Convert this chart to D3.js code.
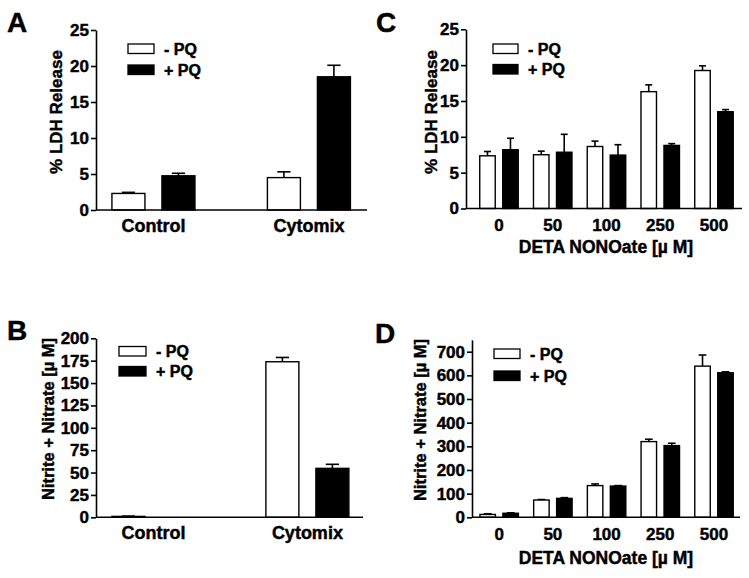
<!DOCTYPE html>
<html>
<head>
<meta charset="utf-8">
<script src="https://cdn.jsdelivr.net/npm/d3@7"></script>
<style>
  html, body { margin: 0; padding: 0; background: #fff; }
  svg { display: block; }
  text { font-family: "Liberation Sans", Arial, Helvetica, sans-serif; font-weight: bold; fill: #000; stroke: #000; stroke-width: 0.45px; }
</style>
</head>
<body>
<svg id="chart" width="749" height="578"></svg>
<script>
// ---------- DATA ----------
const seriesNames = ["- PQ", "+ PQ"];
const treatCats = ["Control", "Cytomix"];
const doseCats = ["0", "50", "100", "250", "500"];

// Panel A: % LDH Release
const aMinus = [2.3, 4.5];
const aMinusErr = [0.15, 0.8];
const aPlus = [4.75, 18.5];
const aPlusErr = [0.35, 1.6];
const aTicks = [0, 5, 10, 15, 20, 25];

// Panel B: Nitrite + Nitrate [µM]
const bMinus = [1.0, 173.8];
const bMinusErr = [0.3, 4.8];
const bPlus = [0, 54.7];
const bPlusErr = [0, 4.5];
const bTicks = [0, 25, 50, 75, 100, 125, 150, 175, 200];

// Panel C: % LDH Release vs DETA NONOate
const cMinus = [7.35, 7.5, 8.65, 16.3, 19.25];
const cMinusErr = [0.6, 0.5, 0.75, 0.95, 0.65];
const cPlus = [8.2, 7.85, 7.45, 8.8, 13.5];
const cPlusErr = [1.6, 2.5, 1.45, 0.25, 0.3];
const cTicks = [0, 5, 10, 15, 20, 25];

// Panel D: Nitrite + Nitrate vs DETA NONOate
const dMinus = [12, 73, 134, 320, 639];
const dMinusErr = [3, 2, 7, 10, 47];
const dPlus = [17, 80, 132, 303, 611];
const dPlusErr = [2, 3, 2, 10, 4];
const dTicks = [0, 100, 200, 300, 400, 500, 600, 700];

// ---------- DRAW ----------
const svg = d3.select("#chart");
const FONT = "'Liberation Sans', Arial, Helvetica, sans-serif";

function panel(p) {
  const g = svg.append("g");
  const x = d3.scaleBand().domain(p.cats).range([p.x0, p.x1])
    .paddingInner(p.pi).paddingOuter(p.po).align(p.align);
  const xs = d3.scaleBand().domain(seriesNames).range([0, x.bandwidth()]).paddingInner(p.si);
  const y = d3.scaleLinear().domain(p.ydom).range([p.y0, p.y1]);

  const rows = [];
  p.cats.forEach((c, i) => {
    rows.push({cat: c, s: seriesNames[0], v: p.minus[i], e: p.minusErr[i]});
    rows.push({cat: c, s: seriesNames[1], v: p.plus[i], e: p.plusErr[i]});
  });

  // error bars
  const capW = xs.bandwidth() * p.cap;
  const eg = g.append("g");
  rows.filter(r => r.e > 0).forEach(r => {
    const cx = x(r.cat) + xs(r.s) + xs.bandwidth() / 2;
    eg.append("line").attr("x1", cx).attr("x2", cx)
      .attr("y1", y(r.v)).attr("y2", y(r.v + r.e))
      .attr("stroke", "#000").attr("stroke-width", 1.6);
    eg.append("line").attr("x1", cx - capW / 2).attr("x2", cx + capW / 2)
      .attr("y1", y(r.v + r.e)).attr("y2", y(r.v + r.e))
      .attr("stroke", "#000").attr("stroke-width", 1.6);
  });

  // bars
  g.append("g").selectAll("rect").data(rows).join("rect")
    .attr("x", d => x(d.cat) + xs(d.s))
    .attr("width", xs.bandwidth())
    .attr("y", d => y(d.v))
    .attr("height", d => Math.max(0, y(0) - y(d.v)))
    .attr("fill", d => d.s === seriesNames[0] ? "#fff" : "#000")
    .attr("stroke", "#000").attr("stroke-width", 1.4);

  // y axis
  const ya = g.append("g").attr("transform", `translate(${p.x0},0)`)
    .call(d3.axisLeft(y).tickValues(p.ticks).tickSize(5).tickPadding(2).tickSizeOuter(0));
  ya.select(".domain").attr("stroke-width", 1.6);
  ya.selectAll(".tick line").attr("stroke-width", 1.6);
  ya.selectAll(".tick text").attr("font-family", FONT).attr("font-weight", "bold")
    .attr("font-size", 17).attr("fill", "#000");

  // x axis line
  g.append("line").attr("x1", p.x0).attr("x2", p.x1).attr("y1", y(0)).attr("y2", y(0))
    .attr("stroke", "#000").attr("stroke-width", 1.6);

  // category labels
  g.append("g").selectAll("text").data(p.cats).join("text")
    .attr("x", d => x(d) + x.bandwidth() / 2)
    .attr("y", p.catY)
    .attr("text-anchor", "middle")
    .attr("font-size", p.catSize)
    .text(d => d);

  // x title
  if (p.xTitle) {
    g.append("text").attr("x", p.xTitleX).attr("y", p.xTitleY)
      .attr("text-anchor", "middle").attr("font-size", 17.5).text(p.xTitle);
  }

  // y title
  g.append("text")
    .attr("transform", `translate(${p.yTitleX},${p.yTitleY}) rotate(-90)`)
    .attr("text-anchor", "middle").attr("font-size", p.yTitleSize).text(p.yTitle);

  // legend
  seriesNames.forEach((s, i) => {
    const ly = p.legY + i * p.legGap;
    g.append("rect").attr("x", p.legX).attr("y", ly).attr("width", p.legW).attr("height", 9.5)
      .attr("fill", i === 0 ? "#fff" : "#000").attr("stroke", "#000").attr("stroke-width", 1.3);
    g.append("text").attr("x", p.legX + p.legW + 10).attr("y", ly + 10.5)
      .attr("font-size", 16).text(s);
  });

  // panel letter
  g.append("text").attr("x", p.letX).attr("y", p.letY).attr("font-size", 28).text(p.letter);
}

panel({
  letter: "A", letX: 7, letY: 32,
  cats: treatCats, x0: 96, x1: 367, pi: 0.466, po: 0.1045, align: 0.49, si: 0.34, cap: 0.4,
  ydom: [0, 25], y0: 210, y1: 30, ticks: aTicks,
  minus: aMinus, minusErr: aMinusErr, plus: aPlus, plusErr: aPlusErr,
  catY: 232, catSize: 18,
  yTitle: "% LDH Release", yTitleX: 62, yTitleY: 112, yTitleSize: 17,
  legX: 128, legY: 44, legGap: 21, legW: 26
});

panel({
  letter: "B", letX: 7, letY: 340,
  cats: treatCats, x0: 96, x1: 363, pi: 0.461, po: 0.0975, align: 0.53, si: 0.34, cap: 0.4,
  ydom: [0, 200], y0: 517.3, y1: 338.3, ticks: bTicks,
  minus: bMinus, minusErr: bMinusErr, plus: bPlus, plusErr: bPlusErr,
  catY: 539, catSize: 18,
  yTitle: "Nitrite + Nitrate [\u00b5 M]", yTitleX: 53.5, yTitleY: 419, yTitleSize: 16.5,
  legX: 119, legY: 346.5, legGap: 20, legW: 27
});

panel({
  letter: "C", letX: 376, letY: 32,
  cats: doseCats, x0: 466, x1: 742, pi: 0.284, po: 0.2095, align: 0.61, si: 0.326, cap: 0.45,
  ydom: [0, 25], y0: 208.5, y1: 29.3, ticks: cTicks,
  minus: cMinus, minusErr: cMinusErr, plus: cPlus, plusErr: cPlusErr,
  catY: 231, catSize: 17,
  xTitle: "DETA NONOate [\u00b5 M]", xTitleX: 606, xTitleY: 253,
  yTitle: "% LDH Release", yTitleX: 436.5, yTitleY: 112, yTitleSize: 17,
  legX: 493, legY: 44, legGap: 20.5, legW: 25
});

panel({
  letter: "D", letX: 375, letY: 343,
  cats: doseCats, x0: 472, x1: 740, pi: 0.284, po: 0.137, align: 0.54, si: 0.326, cap: 0.5,
  ydom: [0, 750], y0: 517.3, y1: 517.3 - 750 * (165.6 / 700), ticks: dTicks,
  minus: dMinus, minusErr: dMinusErr, plus: dPlus, plusErr: dPlusErr,
  catY: 540, catSize: 17,
  xTitle: "DETA NONOate [\u00b5 M]", xTitleX: 606, xTitleY: 564,
  yTitle: "Nitrite + Nitrate [\u00b5 M]", yTitleX: 426, yTitleY: 420, yTitleSize: 16.5,
  legX: 494, legY: 349, legGap: 22, legW: 26
});
</script>
</body>
</html>
